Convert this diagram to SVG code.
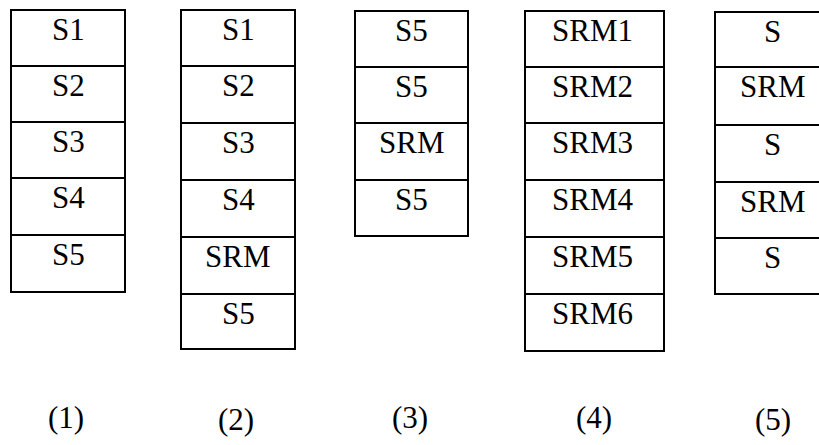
<svg xmlns="http://www.w3.org/2000/svg" width="819" height="445" viewBox="0 0 819 445">
<rect width="819" height="445" fill="#fff"/>
<g fill="#fff" stroke="#000" stroke-width="2">
<g id="col1">
<rect id="c1r1" x="11" y="10" width="114" height="56"/>
<rect id="c1r2" x="11" y="66" width="114" height="56"/>
<rect id="c1r3" x="11" y="122" width="114" height="56"/>
<rect id="c1r4" x="11" y="178" width="114" height="57"/>
<rect id="c1r5" x="11" y="235" width="114" height="57"/>
</g>
<g id="col2">
<rect id="c2r1" x="181" y="10" width="114" height="56"/>
<rect id="c2r2" x="181" y="66" width="114" height="57"/>
<rect id="c2r3" x="181" y="123" width="114" height="57"/>
<rect id="c2r4" x="181" y="180" width="114" height="57"/>
<rect id="c2r5" x="181" y="237" width="114" height="57"/>
<rect id="c2r6" x="181" y="294" width="114" height="55"/>
</g>
<g id="col3">
<rect id="c3r1" x="355" y="11" width="113" height="56"/>
<rect id="c3r2" x="355" y="67" width="113" height="56"/>
<rect id="c3r3" x="355" y="123" width="113" height="57"/>
<rect id="c3r4" x="355" y="180" width="113" height="56"/>
</g>
<g id="col4">
<rect id="c4r1" x="525" y="11" width="139" height="56"/>
<rect id="c4r2" x="525" y="67" width="139" height="56"/>
<rect id="c4r3" x="525" y="123" width="139" height="57"/>
<rect id="c4r4" x="525" y="180" width="139" height="57"/>
<rect id="c4r5" x="525" y="237" width="139" height="57"/>
<rect id="c4r6" x="525" y="294" width="139" height="57"/>
</g>
<g id="col5">
<rect id="c5r1" x="715" y="12" width="116" height="55"/>
<rect id="c5r2" x="715" y="67" width="116" height="58"/>
<rect id="c5r3" x="715" y="125" width="116" height="57"/>
<rect id="c5r4" x="715" y="182" width="116" height="56"/>
<rect id="c5r5" x="715" y="238" width="116" height="56"/>
</g>
</g>
<g id="connectors"/>
<text x="52" y="40" font-size="31" font-family="Liberation Serif, serif">S1</text>
<text x="52" y="96" font-size="31" font-family="Liberation Serif, serif">S2</text>
<text x="52" y="152" font-size="31" font-family="Liberation Serif, serif">S3</text>
<text x="52" y="208" font-size="31" font-family="Liberation Serif, serif">S4</text>
<text x="52" y="265" font-size="31" font-family="Liberation Serif, serif">S5</text>
<text x="222" y="40" font-size="31" font-family="Liberation Serif, serif">S1</text>
<text x="222" y="96" font-size="31" font-family="Liberation Serif, serif">S2</text>
<text x="222" y="153" font-size="31" font-family="Liberation Serif, serif">S3</text>
<text x="222" y="210" font-size="31" font-family="Liberation Serif, serif">S4</text>
<text x="205" y="267" font-size="31" font-family="Liberation Serif, serif">SRM</text>
<text x="222" y="324" font-size="31" font-family="Liberation Serif, serif">S5</text>
<text x="395" y="41" font-size="31" font-family="Liberation Serif, serif">S5</text>
<text x="395" y="97" font-size="31" font-family="Liberation Serif, serif">S5</text>
<text x="379" y="153" font-size="31" font-family="Liberation Serif, serif">SRM</text>
<text x="395" y="210" font-size="31" font-family="Liberation Serif, serif">S5</text>
<text x="552" y="41" font-size="31" font-family="Liberation Serif, serif">SRM1</text>
<text x="552" y="97" font-size="31" font-family="Liberation Serif, serif">SRM2</text>
<text x="552" y="153" font-size="31" font-family="Liberation Serif, serif">SRM3</text>
<text x="552" y="210" font-size="31" font-family="Liberation Serif, serif">SRM4</text>
<text x="552" y="267" font-size="31" font-family="Liberation Serif, serif">SRM5</text>
<text x="552" y="324" font-size="31" font-family="Liberation Serif, serif">SRM6</text>
<text x="764" y="42" font-size="31" font-family="Liberation Serif, serif">S</text>
<text x="740" y="97" font-size="31" font-family="Liberation Serif, serif">SRM</text>
<text x="764" y="155" font-size="31" font-family="Liberation Serif, serif">S</text>
<text x="740" y="212" font-size="31" font-family="Liberation Serif, serif">SRM</text>
<text x="764" y="268" font-size="31" font-family="Liberation Serif, serif">S</text>
<text x="48" y="428" font-size="31" font-family="Liberation Serif, serif">(1)</text>
<text x="218" y="430" font-size="31" font-family="Liberation Serif, serif">(2)</text>
<text x="392" y="428" font-size="31" font-family="Liberation Serif, serif">(3)</text>
<text x="576" y="428" font-size="31" font-family="Liberation Serif, serif">(4)</text>
<text x="755" y="430" font-size="31" font-family="Liberation Serif, serif">(5)</text>
</svg>
